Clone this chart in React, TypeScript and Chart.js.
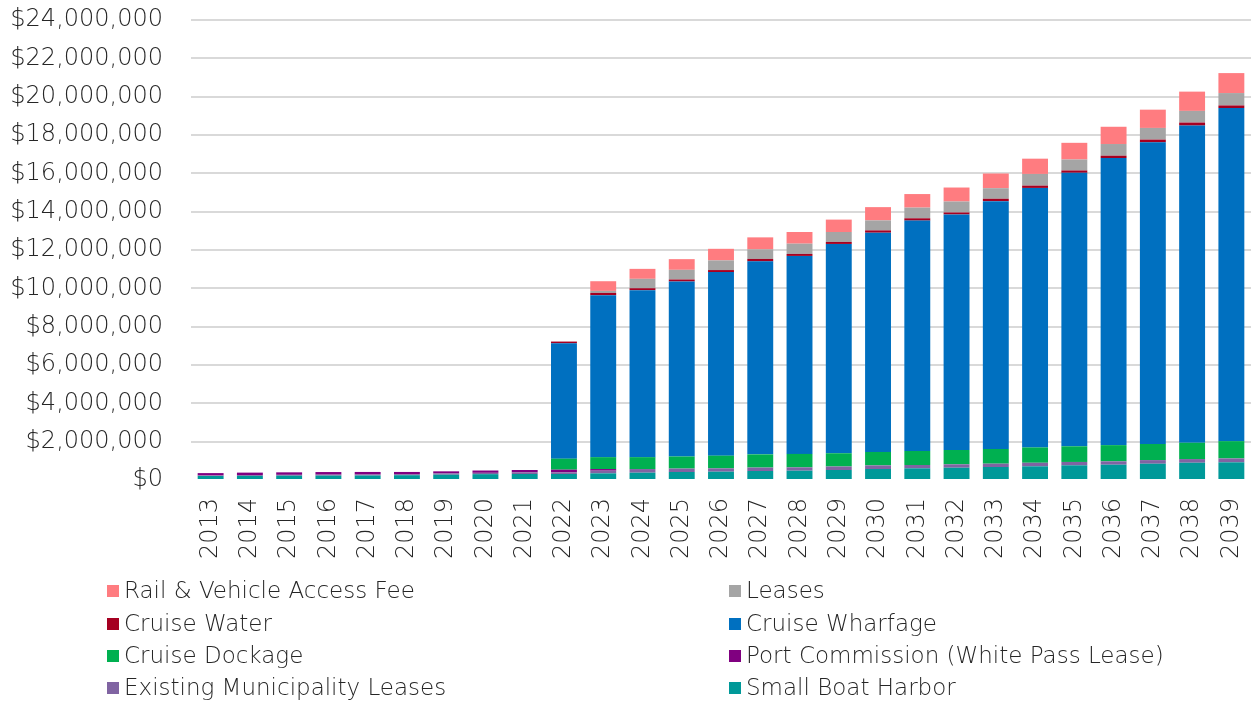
import React, { useEffect, useRef } from "react";
import { Chart, registerables } from "chart.js";

Chart.register(...registerables);

const years = [
  "2013", "2014", "2015", "2016", "2017", "2018", "2019", "2020", "2021",
  "2022", "2023", "2024", "2025", "2026", "2027", "2028", "2029", "2030",
  "2031", "2032", "2033", "2034", "2035", "2036", "2037", "2038", "2039",
];

const smallBoatHarbor = [
  210000, 215000, 225000, 230000, 235000, 250000, 277000, 305000, 312000,
  315000, 347000, 382000, 417000, 434000, 469000, 486000, 521000, 573000,
  609000, 641000, 677000, 714000, 766000, 797000, 849000, 901000, 922000,
];
const existingMunicipalityLeases = [
  30000, 45000, 45000, 50000, 50000, 55000, 70000, 70000, 85000,
  85000, 140000, 190000, 180000, 175000, 180000, 175000, 185000, 190000,
  175000, 178000, 175000, 185000, 175000, 178000, 190000, 192000, 205000,
];
const portCommission = [
  120000, 125000, 130000, 135000, 135000, 115000, 105000, 120000, 125000,
  140000, 85000, 0, 0, 0, 0, 0, 0, 0,
  0, 0, 0, 0, 0, 0, 0, 0, 0,
];
const cruiseDockage = [
  0, 0, 0, 0, 0, 0, 0, 0, 0,
  573000, 620000, 620000, 630000, 660000, 690000, 700000, 690000, 700000,
  730000, 745000, 766000, 800000, 818000, 845000, 840000, 850000, 900000,
];
const cruiseWharfage = [
  0, 0, 0, 0, 0, 0, 0, 0, 0,
  6020000, 8450000, 8710000, 9130000, 9580000, 10070000, 10330000, 10920000, 11440000,
  12020000, 12290000, 12930000, 13540000, 14270000, 14980000, 15740000, 16550000, 17380000,
];
const cruiseWater = [
  0, 0, 0, 0, 0, 0, 0, 0, 0,
  90000, 120000, 104000, 104000, 104000, 125000, 104000, 104000, 120000,
  120000, 104000, 125000, 120000, 120000, 120000, 141000, 156000, 135000,
];
const leases = [
  0, 0, 0, 0, 0, 0, 0, 0, 0,
  0, 104000, 490000, 505000, 505000, 500000, 536000, 520000, 521000,
  557000, 573000, 552000, 609000, 573000, 609000, 609000, 609000, 646000,
];
const railVehicleAccessFee = [
  0, 0, 0, 0, 0, 0, 0, 0, 0,
  0, 505000, 520000, 557000, 604000, 625000, 609000, 646000, 693000,
  708000, 729000, 766000, 797000, 870000, 901000, 953000, 1005000, 1042000,
];

const yTickValues = [0, 2000000, 4000000, 6000000, 8000000, 10000000, 12000000, 14000000, 16000000, 18000000, 20000000, 22000000, 24000000];

// bottom-to-top stacking order
const seriesNames = [
  "Small Boat Harbor",
  "Existing Municipality Leases",
  "Port Commission (White Pass Lease)",
  "Cruise Dockage",
  "Cruise Wharfage",
  "Cruise Water",
  "Leases",
  "Rail & Vehicle Access Fee",
];
const seriesValues = [
  smallBoatHarbor,
  existingMunicipalityLeases,
  portCommission,
  cruiseDockage,
  cruiseWharfage,
  cruiseWater,
  leases,
  railVehicleAccessFee,
];
const seriesColors = [
  "#009999",
  "#8064A2",
  "#800080",
  "#00B050",
  "#0070C0",
  "#A50021",
  "#A5A5A5",
  "#FF7C80",
];

const FONT = "'DejaVu Sans', sans-serif";
const TEXT_COLOR = "#262626";

const legendPlugin = {
  id: "twoColLegend",
  afterDraw(chart: any) {
    const ctx = chart.ctx;
    const colX = [107, 729];
    const rowY = [591, 624, 656, 688];
    const box = 12;
    ctx.save();
    ctx.font = `200 23px ${FONT}`;
    ctx.textBaseline = "middle";
    ctx.textAlign = "left";
    const order = seriesNames.map((_, i) => seriesNames.length - 1 - i);
    order.forEach((si, k) => {
      const col = k % 2;
      const row = Math.floor(k / 2);
      const x = colX[col];
      const y = rowY[row];
      ctx.fillStyle = seriesColors[si];
      ctx.fillRect(x, y - box / 2, box, box);
      ctx.fillStyle = TEXT_COLOR;
      ctx.fillText(seriesNames[si], x + 17, y + 1);
    });
    ctx.restore();
  },
};

export default function App() {
  const ref = useRef<HTMLCanvasElement | null>(null);
  useEffect(() => {
    document.body.style.margin = "0";
    if (!ref.current) return;
    const chart = new Chart(ref.current, {
      type: "bar",
      data: {
        labels: years,
        datasets: seriesNames.map((name, i) => ({
          label: name,
          data: seriesValues[i].map((v) => (v === 0 ? null : v)),
          backgroundColor: seriesColors[i],
          borderWidth: 0,
          barPercentage: 0.66,
          categoryPercentage: 1,
        })),
      },
      options: {
        responsive: false,
        animation: false,
        layout: { padding: { top: 20, left: 0, right: 0, bottom: 0 } },
        plugins: {
          legend: { display: false },
          tooltip: { enabled: false },
          title: { display: false },
        },
        scales: {
          x: {
            stacked: true,
            grid: { display: false, drawTicks: false },
            border: { display: false },
            ticks: {
              autoSkip: false,
              minRotation: 90,
              maxRotation: 90,
              padding: 18,
              color: TEXT_COLOR,
              font: { family: FONT, size: 24, weight: "200" as any },
            },
            afterFit(scale: any) {
              scale.height = 223;
              scale.paddingTop = 0;
              scale.paddingBottom = 0;
              scale.paddingLeft = 0;
              scale.paddingRight = 0;
            },
          },
          y: {
            stacked: true,
            min: 0,
            max: 24000000,
            afterBuildTicks(scale: any) {
              scale.ticks = yTickValues.map((v) => ({ value: v }));
            },
            grid: {
              drawTicks: false,
              lineWidth: 2,
              color: (c: any) => (c.tick && c.tick.value === 0 ? "rgba(0,0,0,0)" : "#d9d9d9"),
            },
            border: { display: false },
            ticks: {
              padding: 28,
              color: TEXT_COLOR,
              font: { family: FONT, size: 24, weight: "200" as any },
              callback: (v: any) => "$" + Number(v).toLocaleString("en-US"),
            },
            afterFit(scale: any) {
              scale.width = 191;
              scale.paddingTop = 0;
              scale.paddingBottom = 0;
            },
          },
        },
      },
      plugins: [legendPlugin],
    });
    return () => chart.destroy();
  }, []);
  return (
    <div style={{ position: "fixed", left: 0, top: 0, width: 1251, height: 703, background: "#fff" }}>
      <canvas ref={ref} width={1251} height={703} style={{ width: 1251, height: 703 }} />
    </div>
  );
}
